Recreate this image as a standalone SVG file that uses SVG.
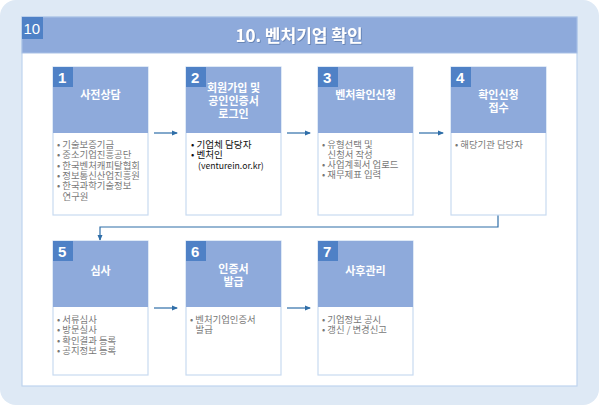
<svg xmlns="http://www.w3.org/2000/svg" width="599" height="405" viewBox="0 0 599 405">
<defs>
<style>
.hd{fill:#8eaadb}
.bd{fill:#ffffff;stroke:#c9dbf1;stroke-width:1.2}
.bg{fill:#4f81c6}
.num{font-family:"Liberation Sans",Arial,sans-serif;font-size:15px;font-weight:bold;fill:#ffffff}
.ht{font-family:"Noto Sans CJK KR","Noto Sans",sans-serif;font-size:11px;font-weight:bold;fill:#ffffff;text-anchor:middle}
.tx{font-family:"Noto Sans CJK KR","Noto Sans",sans-serif;font-size:9.4px;fill:#777777}
.tk{font-family:"Noto Sans CJK KR","Noto Sans",sans-serif;font-size:9.6px;fill:#111111}
.cn{fill:none;stroke:#2f6ea8;stroke-width:1.2}
</style>
<marker id="ar" markerWidth="6" markerHeight="6" refX="5" refY="3" orient="auto" markerUnits="userSpaceOnUse">
<path d="M0,0.5 L6,3 L0,5.5 Z" fill="#2f6ea8"/>
</marker>
<filter id="sh" x="-10%" y="-30%" width="120%" height="160%">
<feDropShadow dx="0.8" dy="0.8" stdDeviation="0.6" flood-color="#3a5a8a" flood-opacity="0.6"/>
</filter>
</defs>
<rect x="0" y="0" width="599" height="405" rx="16" fill="#dee9f5"/>
<rect x="22" y="17" width="555" height="369" fill="#ffffff" stroke="#bfd4ee" stroke-width="1.2"/>
<g id="title">
<rect x="22" y="17" width="555" height="36" fill="#8eaadb" stroke="#a9c1e6" stroke-width="1"/>
<rect x="22" y="17" width="21" height="22" fill="#4f81c6"/>
<text x="23.5" y="34" font-family="Liberation Sans,Arial,sans-serif" font-size="15" fill="#ffffff">10</text>
<text x="299" y="42" text-anchor="middle" font-family="Noto Sans CJK KR,Noto Sans,sans-serif" font-size="17" font-weight="bold" fill="#ffffff" filter="url(#sh)">10. 벤처기업 확인</text>
</g>
<g id="connectors">
<line class="cn" x1="154" y1="133" x2="177" y2="133" marker-end="url(#ar)"/>
<line class="cn" x1="287" y1="133" x2="310" y2="133" marker-end="url(#ar)"/>
<line class="cn" x1="419" y1="133" x2="443" y2="133" marker-end="url(#ar)"/>
<polyline class="cn" points="498,215 498,227 100,227 100,240" marker-end="url(#ar)"/>
<line class="cn" x1="154" y1="308" x2="177" y2="308" marker-end="url(#ar)"/>
<line class="cn" x1="287" y1="308" x2="310" y2="308" marker-end="url(#ar)"/>
</g>
<g id="node1">
<rect class="bd" x="53" y="67" width="95" height="148"/>
<rect class="hd" x="53" y="67" width="95" height="66"/>
<rect class="bg" x="53" y="67" width="20" height="20"/>
<text class="num" x="58" y="83">1</text>
<text class="ht" x="100.5" y="99">사전상담</text>
<text class="tx"><tspan x="57" y="148">• 기술보증기금</tspan><tspan x="57" dy="10.3">• 중소기업진흥공단</tspan><tspan x="57" dy="10.3">• 한국벤처캐피탈협회</tspan><tspan x="57" dy="10.3">• 정보통신산업진흥원</tspan><tspan x="57" dy="10.3">• 한국과학기술정보</tspan><tspan x="62.5" dy="10.3">연구원</tspan></text>
</g>
<g id="node2">
<rect class="bd" x="186" y="67" width="95" height="148"/>
<rect class="hd" x="186" y="67" width="95" height="66"/>
<rect class="bg" x="186" y="67" width="20" height="20"/>
<text class="num" x="191" y="83">2</text>
<text class="ht"><tspan x="233.5" y="92">회원가입 및</tspan><tspan x="233.5" dy="13">공인인증서</tspan><tspan x="233.5" dy="13">로그인</tspan></text>
<text class="tk"><tspan x="191" y="147.5">• 기업체 담당자</tspan><tspan x="191" dy="10.7">• 벤처인</tspan><tspan x="198" dy="10.7" font-size="8.7">(venturein.or.kr)</tspan></text>
</g>
<g id="node3">
<rect class="bd" x="318" y="67" width="95" height="148"/>
<rect class="hd" x="318" y="67" width="95" height="66"/>
<rect class="bg" x="318" y="67" width="20" height="20"/>
<text class="num" x="323" y="83">3</text>
<text class="ht" x="365.5" y="99">벤처확인신청</text>
<text class="tx"><tspan x="322" y="147.5">• 유형선택 및</tspan><tspan x="327.5" dy="10.3">신청서 작성</tspan><tspan x="322" dy="10.3">• 사업계획서 업로드</tspan><tspan x="322" dy="10.3">• 재무제표 입력</tspan></text>
</g>
<g id="node4">
<rect class="bd" x="451" y="67" width="95" height="148"/>
<rect class="hd" x="451" y="67" width="95" height="66"/>
<rect class="bg" x="451" y="67" width="20" height="20"/>
<text class="num" x="456" y="83">4</text>
<text class="ht"><tspan x="498.5" y="99">확인신청</tspan><tspan x="498.5" dy="12.5">접수</tspan></text>
<text class="tx" x="455" y="147.5">• 해당기관 담당자</text>
</g>
<g id="node5">
<rect class="bd" x="53" y="241" width="95" height="134"/>
<rect class="hd" x="53" y="241" width="95" height="66"/>
<rect class="bg" x="53" y="241" width="20" height="20"/>
<text class="num" x="58" y="257">5</text>
<text class="ht" x="100.5" y="274.5">심사</text>
<text class="tx"><tspan x="57" y="323">• 서류심사</tspan><tspan x="57" dy="10.3">• 방문실사</tspan><tspan x="57" dy="10.3">• 확인결과 등록</tspan><tspan x="57" dy="10.3">• 공지정보 등록</tspan></text>
</g>
<g id="node6">
<rect class="bd" x="186" y="241" width="95" height="134"/>
<rect class="hd" x="186" y="241" width="95" height="66"/>
<rect class="bg" x="186" y="241" width="20" height="20"/>
<text class="num" x="191" y="257">6</text>
<text class="ht"><tspan x="233.5" y="273">인증서</tspan><tspan x="233.5" dy="13">발급</tspan></text>
<text class="tx"><tspan x="190" y="323">• 벤처기업인증서</tspan><tspan x="195.5" dy="10.3">발급</tspan></text>
</g>
<g id="node7">
<rect class="bd" x="318" y="241" width="95" height="134"/>
<rect class="hd" x="318" y="241" width="95" height="66"/>
<rect class="bg" x="318" y="241" width="20" height="20"/>
<text class="num" x="323" y="257">7</text>
<text class="ht" x="365.5" y="274.5">사후관리</text>
<text class="tx"><tspan x="322" y="323">• 기업정보 공시</tspan><tspan x="322" dy="10.3">• 갱신 / 변경신고</tspan></text>
</g>
</svg>
